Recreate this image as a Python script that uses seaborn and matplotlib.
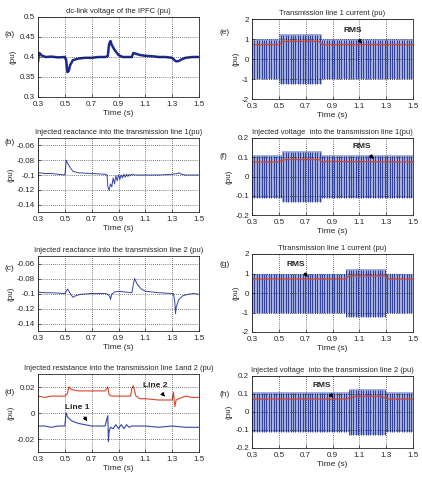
import numpy as np
import matplotlib.pyplot as plt
from matplotlib.ticker import FuncFormatter
import seaborn as sns

W, H = 422, 479
TIME_TICKS = [0.3, 0.5, 0.7, 0.9, 1.1, 1.3, 1.5]

# (a) dc-link voltage
DC_T = [0.30, 0.305, 0.31, 0.33, 0.36, 0.40, 0.45, 0.50, 0.51, 0.515, 0.52, 0.53, 0.54, 0.56, 0.60,
        0.65, 0.70, 0.75, 0.80, 0.82, 0.825, 0.83, 0.84, 0.85, 0.87, 0.90, 0.93, 0.96, 1.00, 1.01,
        1.03, 1.06, 1.10, 1.15, 1.20, 1.25, 1.30, 1.31, 1.33, 1.35, 1.37, 1.40, 1.45, 1.50]
DC_V = [0.388, 0.405, 0.410, 0.403, 0.400, 0.401, 0.399, 0.400, 0.392, 0.375, 0.362, 0.366, 0.380,
        0.392, 0.396, 0.398, 0.398, 0.400, 0.400, 0.402, 0.418, 0.432, 0.440, 0.430, 0.418, 0.405,
        0.400, 0.400, 0.400, 0.410, 0.408, 0.405, 0.403, 0.402, 0.400, 0.400, 0.398, 0.394, 0.389,
        0.390, 0.394, 0.398, 0.400, 0.400]

# (b) injected reactance line 1
XB_T = [0.30, 0.305, 0.31, 0.35, 0.40, 0.45, 0.50, 0.505, 0.51, 0.52, 0.54, 0.56, 0.60, 0.70,
        0.80, 0.815, 0.82, 0.83, 0.84, 0.85, 0.86, 0.87, 0.88, 0.89, 0.90, 0.91, 0.92, 0.93,
        0.94, 0.95, 0.96, 0.97, 0.98, 0.99, 1.00, 1.02, 1.10, 1.20, 1.30, 1.34, 1.35, 1.37, 1.40, 1.50]
XB_V = [-0.103, -0.098, -0.097, -0.098, -0.098, -0.099, -0.100, -0.092, -0.080, -0.084, -0.090,
        -0.095, -0.097, -0.098, -0.099, -0.100, -0.115, -0.121, -0.112, -0.116, -0.104, -0.112,
        -0.101, -0.108, -0.100, -0.106, -0.100, -0.104, -0.099, -0.103, -0.099, -0.102, -0.099,
        -0.101, -0.099, -0.100, -0.100, -0.100, -0.099, -0.098, -0.097, -0.099, -0.100, -0.100]

# (c) injected reactance line 2
XC_T = [0.30, 0.35, 0.40, 0.50, 0.51, 0.52, 0.54, 0.56, 0.58, 0.62, 0.70, 0.80, 0.82, 0.835,
        0.84, 0.85, 0.87, 0.90, 0.95, 1.00, 1.005, 1.01, 1.02, 1.04, 1.07, 1.10, 1.20, 1.30,
        1.31, 1.32, 1.325, 1.33, 1.35, 1.38, 1.42, 1.46, 1.50]
XC_V = [-0.098, -0.099, -0.099, -0.100, -0.097, -0.094, -0.100, -0.105, -0.103, -0.101, -0.100,
        -0.100, -0.101, -0.104, -0.108, -0.101, -0.098, -0.097, -0.098, -0.099, -0.094, -0.088,
        -0.080, -0.088, -0.094, -0.097, -0.099, -0.100, -0.100, -0.112, -0.127, -0.118, -0.108,
        -0.103, -0.101, -0.100, -0.101]

# (d) injected resistance, line 1 and line 2
R1_T = [0.30, 0.35, 0.40, 0.45, 0.50, 0.505, 0.51, 0.52, 0.55, 0.60, 0.65, 0.70, 0.75, 0.80,
        0.81, 0.82, 0.825, 0.83, 0.84, 0.86, 0.88, 0.90, 0.92, 0.94, 0.96, 0.98, 1.00, 1.05,
        1.10, 1.20, 1.30, 1.40, 1.50]
R1_V = [-0.010, -0.010, -0.011, -0.010, -0.010, -0.004, 0.000, -0.003, -0.006, -0.008, -0.009,
        -0.010, -0.010, -0.010, -0.006, -0.002, -0.022, -0.014, -0.011, -0.012, -0.009, -0.012,
        -0.009, -0.012, -0.009, -0.011, -0.010, -0.010, -0.010, -0.011, -0.010, -0.011, -0.011]
R2_T = [0.30, 0.35, 0.40, 0.45, 0.50, 0.52, 0.53, 0.55, 0.60, 0.70, 0.80, 0.82, 0.83, 0.85,
        0.90, 0.95, 0.99, 1.00, 1.01, 1.03, 1.06, 1.10, 1.20, 1.30, 1.31, 1.315, 1.32, 1.33,
        1.35, 1.40, 1.45, 1.50]
R2_V = [0.013, 0.012, 0.013, 0.013, 0.013, 0.015, 0.020, 0.018, 0.017, 0.017, 0.017, 0.020,
        0.014, 0.013, 0.013, 0.013, 0.013, 0.019, 0.021, 0.013, 0.011, 0.011, 0.010, 0.010,
        0.016, 0.010, 0.005, 0.010, 0.011, 0.013, 0.012, 0.012]

# (e)-(h) oscillating quantities: envelope breakpoints and RMS values
E_T = [0.30, 0.50, 0.50, 0.82, 0.82, 1.50]
E_AMP = [1.00, 1.00, 1.25, 1.25, 1.00, 1.00]
E_RMS_T = [0.30, 0.50, 0.53, 0.80, 0.82, 1.50]
E_RMS = [0.72, 0.72, 0.88, 0.88, 0.72, 0.72]

F_T = [0.30, 0.52, 0.52, 0.82, 0.82, 1.50]
F_AMP = [0.110, 0.110, 0.135, 0.135, 0.110, 0.110]
F_RMS_T = [0.30, 0.50, 0.55, 0.80, 0.83, 0.85, 1.50]
F_RMS = [0.076, 0.076, 0.088, 0.088, 0.072, 0.078, 0.076]

G_T = [0.30, 1.00, 1.00, 1.30, 1.30, 1.50]
G_AMP = [1.00, 1.00, 1.25, 1.25, 1.00, 1.00]
G_RMS_T = [0.30, 1.00, 1.02, 1.30, 1.32, 1.50]
G_RMS = [0.72, 0.72, 0.88, 0.88, 0.72, 0.72]

H_T = [0.30, 1.02, 1.02, 1.30, 1.30, 1.50]
H_AMP = [0.110, 0.110, 0.130, 0.130, 0.110, 0.110]
H_RMS_T = [0.30, 1.00, 1.08, 1.25, 1.32, 1.50]
H_RMS = [0.072, 0.072, 0.088, 0.088, 0.072, 0.072]

CARRIER_STEP = 0.018  # visible stroke spacing of the sampled 60 Hz waveforms

NAVY = "#1d2c8c"
BLUE = "#3346a8"
LIGHT = "#a3afdf"
RED = "#d9452b"

sns.set_style("ticks")
plt.rcParams["font.family"] = ["Liberation Sans Narrow", "Liberation Sans", "DejaVu Sans"]
plt.rcParams["font.size"] = 6

fig = plt.figure(figsize=(W / 100, H / 100), dpi=100)


def make_ax(left, top, right, bottom):
    return fig.add_axes([left / W, 1 - bottom / H, (right - left) / W, (bottom - top) / H])


def style(ax, title, label, ylim, yticks, label_y):
    ax.set_xlim(0.3, 1.5)
    ax.set_ylim(*ylim)
    ax.set_xticks(TIME_TICKS)
    ax.set_yticks(yticks)
    ax.xaxis.set_major_formatter(FuncFormatter(lambda v, p: f"{v:g}"))
    ax.yaxis.set_major_formatter(FuncFormatter(lambda v, p: f"{v:g}"))
    ax.tick_params(direction="in", length=2, width=0.5, labelsize=5.8, pad=2)
    ax.tick_params(axis="x", pad=3)
    ax.grid(True, color="black", linestyle=(0, (1, 2)), linewidth=0.5)
    ax.set_axisbelow(False)
    for s in ax.spines.values():
        s.set_linewidth(0.6)
    ax.set_title(title, fontsize=5.4, pad=3)
    ax.set_xlabel("Time (s)", fontsize=6, labelpad=1)
    ax.set_ylabel("(pu)", fontsize=5.8, labelpad=2)
    fig.text(ax.get_position().x0 - 33 / W, label_y, label, fontsize=6, va="center")


def trace(ax, t, v, color, lw):
    sns.lineplot(x=t, y=v, ax=ax, color=color, linewidth=lw, sort=False, estimator=None)


def oscillation(ax, env_t, env_amp, rms_t, rms_v):
    env_amp = np.array(env_amp)
    ax.fill_between(env_t, -env_amp, env_amp, color=LIGHT, linewidth=0)
    strokes = np.arange(0.3, 1.5, CARRIER_STEP)
    amp = np.interp(strokes, env_t, env_amp)
    ax.vlines(strokes, -amp, amp * 0.96, color=NAVY, linewidth=0.6)
    trace(ax, rms_t, rms_v, RED, 0.9)


def rms_note(ax, xy, xytext):
    ax.annotate("RMS", xy=xy, xytext=xytext, fontsize=6, fontweight="bold",
                arrowprops=dict(arrowstyle="-|>", color="black", lw=0.6, mutation_scale=6))


# left column
ax_a = make_ax(38, 17, 199, 97)
trace(ax_a, DC_T, DC_V, NAVY, 1.8)
style(ax_a, "dc-link voltage of the IPFC (pu)", "(a)", (0.3, 0.5),
      [0.3, 0.35, 0.4, 0.45, 0.5], 1 - 34 / H)

ax_b = make_ax(38, 138, 199, 212)
trace(ax_b, XB_T, XB_V, BLUE, 0.7)
style(ax_b, "Injected reactance into the transmission line 1(pu)", "(b)", (-0.15, -0.05),
      [-0.14, -0.12, -0.1, -0.08, -0.06], 1 - 143 / H)

ax_c = make_ax(38, 256, 199, 331)
trace(ax_c, XC_T, XC_V, BLUE, 0.7)
style(ax_c, "Injected reactance into the transmission line 2 (pu)", "(c)", (-0.15, -0.05),
      [-0.14, -0.12, -0.1, -0.08, -0.06], 1 - 268 / H)

ax_d = make_ax(38, 374, 199, 452)
trace(ax_d, R2_T, R2_V, RED, 0.8)
trace(ax_d, R1_T, R1_V, BLUE, 0.8)
style(ax_d, "Injected resistance into the transmission line 1and 2 (pu)", "(d)", (-0.03, 0.03),
      [-0.02, 0, 0.02], 1 - 392 / H)
ax_d.annotate("Line 1", xy=(0.68, -0.008), xytext=(0.50, 0.003), fontsize=6, fontweight="bold",
              arrowprops=dict(arrowstyle="-|>", color="black", lw=0.6, mutation_scale=6))
ax_d.annotate("Line 2", xy=(1.26, 0.011), xytext=(1.08, 0.020), fontsize=6, fontweight="bold",
              arrowprops=dict(arrowstyle="-|>", color="black", lw=0.6, mutation_scale=6))

# right column
ax_e = make_ax(252, 19, 413, 99)
oscillation(ax_e, E_T, E_AMP, E_RMS_T, E_RMS)
style(ax_e, "Transmission line 1 current (pu)", "(e)", (-2, 2), [-2, -1, 0, 1, 2], 1 - 32 / H)
rms_note(ax_e, (1.13, 0.65), (0.98, 1.35))

ax_f = make_ax(252, 138, 413, 215)
oscillation(ax_f, F_T, F_AMP, F_RMS_T, F_RMS)
style(ax_f, "Injected voltage  into the transmission line 1(pu)", "(f)", (-0.2, 0.2),
      [-0.2, -0.1, 0, 0.1, 0.2], 1 - 157 / H)
rms_note(ax_f, (1.22, 0.08), (1.05, 0.15))

ax_g = make_ax(252, 254, 413, 332)
oscillation(ax_g, G_T, G_AMP, G_RMS_T, G_RMS)
style(ax_g, "Ttransmission line 1 current (pu)", "(g)", (-2, 2), [-2, -1, 0, 1, 2], 1 - 264 / H)
rms_note(ax_g, (0.73, 0.72), (0.56, 1.4))

ax_h = make_ax(252, 376, 413, 448)
oscillation(ax_h, H_T, H_AMP, H_RMS_T, H_RMS)
style(ax_h, "Injected voltage  into the transmission line 2 (pu)", "(h)", (-0.2, 0.2),
      [-0.2, -0.1, 0, 0.1, 0.2], 1 - 395 / H)
rms_note(ax_h, (0.92, 0.068), (0.75, 0.14))

fig.savefig("out.png", dpi=100)
